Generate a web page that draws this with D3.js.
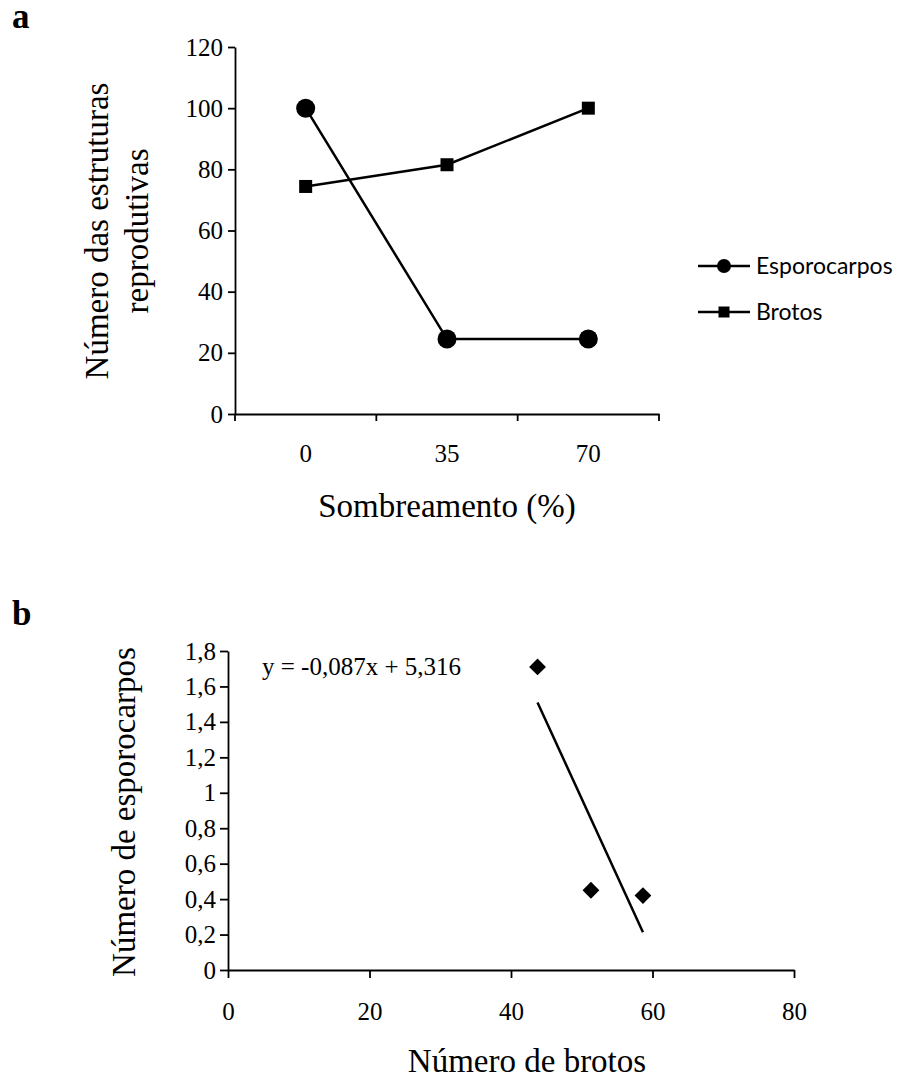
<!DOCTYPE html>
<html>
<head>
<meta charset="utf-8">
<script src="https://cdn.jsdelivr.net/npm/d3@7"></script>
<style>
  body { margin: 0; background: #fff; }
</style>
</head>
<body>
<svg id="chart" width="903" height="1083"></svg>
<script>
// panel a
const shading = ["0", "35", "70"];
const esporocarpos = [100, 24.5, 24.5];
const brotos = [74.4, 81.5, 100];
const yTicksA = [0, 20, 40, 60, 80, 100, 120];

// panel b
const nBrotos = [43.75, 51.3, 58.65];
const nEsporocarpos = [1.71, 0.45, 0.42];
const trendSlope = -0.087;
const trendIntercept = 5.316;
const yTicksB = [0, 0.2, 0.4, 0.6, 0.8, 1, 1.2, 1.4, 1.6, 1.8];
const xTicksB = [0, 20, 40, 60, 80];

const SERIF = "Liberation Serif";
const SANS = "Lato";

const svg = d3.select("#chart");
const commaFmt = d => String(d).replace(".", ",");

const serifText = (g, size) => g.append("text")
    .attr("font-family", SERIF)
    .style("font-family", SERIF)
    .attr("font-size", size)
    .attr("fill", "#000");

const styleTicks = g => g.selectAll("text")
    .attr("font-family", SERIF)
    .style("font-family", SERIF)
    .attr("font-size", 25)
    .attr("fill", "#000");

// ---------- panel a ----------
const xa = d3.scaleBand().domain(shading).range([235, 659]);
const ya = d3.scaleLinear().domain([0, 120]).range([414, 47]);

const gA = svg.append("g");

gA.append("g")
    .attr("transform", "translate(235,0)")
    .call(d3.axisLeft(ya).tickValues(yTicksA).tickSize(7).tickSizeOuter(0))
    .attr("font-family", SERIF)
    .call(styleTicks)
    .call(g => g.selectAll("text").attr("dx", -2))
    .call(g => g.selectAll("line,path").attr("stroke-width", 1.8));

gA.append("g")
    .attr("transform", "translate(0,414)")
    .call(d3.axisBottom(xa).tickSize(0).tickSizeOuter(0))
    .attr("font-family", SERIF)
    .call(styleTicks)
    .call(g => g.selectAll("text").attr("dy", 0).attr("y", 48))
    .call(g => g.select("path").attr("stroke-width", 1.8));

// category boundary ticks
gA.selectAll("line.bound")
    .data([0, 1, 2, 3])
    .enter()
    .append("line")
    .attr("x1", i => 235 + i * xa.step())
    .attr("x2", i => 235 + i * xa.step())
    .attr("y1", 414)
    .attr("y2", 421)
    .attr("stroke", "#000")
    .attr("stroke-width", 1.8);

const lineA = d3.line()
    .x((d, i) => xa(shading[i]) + xa.bandwidth() / 2)
    .y(d => ya(d));

gA.append("path")
    .attr("d", lineA(esporocarpos))
    .attr("fill", "none")
    .attr("stroke", "#000")
    .attr("stroke-width", 2.5);

gA.append("path")
    .attr("d", lineA(brotos))
    .attr("fill", "none")
    .attr("stroke", "#000")
    .attr("stroke-width", 2.5);

gA.selectAll("circle.esp")
    .data(esporocarpos)
    .enter()
    .append("circle")
    .attr("cx", (d, i) => xa(shading[i]) + xa.bandwidth() / 2)
    .attr("cy", d => ya(d))
    .attr("r", 9.5);

gA.selectAll("rect.bro")
    .data(brotos)
    .enter()
    .append("rect")
    .attr("x", (d, i) => xa(shading[i]) + xa.bandwidth() / 2 - 6.5)
    .attr("y", d => ya(d) - 6.5)
    .attr("width", 13)
    .attr("height", 13);

serifText(gA, 35)
    .attr("x", 12)
    .attr("y", 28)
    .attr("font-weight", "bold")
    .text("a");

serifText(gA, 33)
    .attr("transform", "translate(108,231) rotate(-90)")
    .attr("text-anchor", "middle")
    .text("Número das estruturas");

serifText(gA, 33)
    .attr("transform", "translate(148,231) rotate(-90)")
    .attr("text-anchor", "middle")
    .text("reprodutivas");

serifText(gA, 33)
    .attr("x", 447)
    .attr("y", 517)
    .attr("text-anchor", "middle")
    .text("Sombreamento (%)");

// legend
const legend = svg.append("g");
const legendItems = ["Esporocarpos", "Brotos"];
legendItems.forEach((name, i) => {
    const y = 266 + i * 46;
    legend.append("line")
        .attr("x1", 698).attr("x2", 750)
        .attr("y1", y).attr("y2", y)
        .attr("stroke", "#000").attr("stroke-width", 2.5);
    if (i === 0) {
        legend.append("circle").attr("cx", 724).attr("cy", y).attr("r", 7);
    } else {
        legend.append("rect").attr("x", 718.5).attr("y", y - 5.5).attr("width", 11).attr("height", 11);
    }
    legend.append("text")
        .attr("font-family", SANS)
        .style("font-family", SANS)
        .attr("x", 756)
        .attr("y", y + 8)
        .attr("font-size", 23)
        .attr("fill", "#000")
        .text(name);
});

// ---------- panel b ----------
const xb = d3.scaleLinear().domain([0, 80]).range([228, 794]);
const yb = d3.scaleLinear().domain([0, 1.8]).range([970, 651]);

const gB = svg.append("g");

gB.append("g")
    .attr("transform", "translate(228,0)")
    .call(d3.axisLeft(yb).tickValues(yTicksB).tickFormat(commaFmt).tickSize(8).tickSizeOuter(0))
    .attr("font-family", SERIF)
    .call(styleTicks)
    .call(g => g.selectAll("text").attr("dx", -1))
    .call(g => g.selectAll("line,path").attr("stroke-width", 1.8));

gB.append("g")
    .attr("transform", "translate(0,970)")
    .call(d3.axisBottom(xb).tickValues(xTicksB).tickSize(8).tickSizeOuter(0))
    .attr("font-family", SERIF)
    .call(styleTicks)
    .call(g => g.selectAll("text").attr("dy", 0).attr("y", 50))
    .call(g => g.selectAll("line,path").attr("stroke-width", 1.8));

const trendX = d3.extent(nBrotos);
gB.append("line")
    .attr("x1", xb(trendX[0]))
    .attr("y1", yb(trendSlope * trendX[0] + trendIntercept))
    .attr("x2", xb(trendX[1]))
    .attr("y2", yb(trendSlope * trendX[1] + trendIntercept))
    .attr("stroke", "#000")
    .attr("stroke-width", 2.5);

gB.selectAll("path.pt")
    .data(nBrotos)
    .enter()
    .append("path")
    .attr("d", d3.symbol(d3.symbolDiamond2, 180)())
    .attr("transform", (d, i) => `translate(${xb(d)},${yb(nEsporocarpos[i])})`);

serifText(gB, 25)
    .attr("x", 262)
    .attr("y", 675)
    .text("y = -0,087x + 5,316");

serifText(gB, 35)
    .attr("x", 12)
    .attr("y", 625)
    .attr("font-weight", "bold")
    .text("b");

serifText(gB, 33)
    .attr("transform", "translate(135,812) rotate(-90)")
    .attr("text-anchor", "middle")
    .text("Número de esporocarpos");

serifText(gB, 33)
    .attr("x", 527)
    .attr("y", 1072)
    .attr("text-anchor", "middle")
    .text("Número de brotos");
</script>
</body>
</html>
